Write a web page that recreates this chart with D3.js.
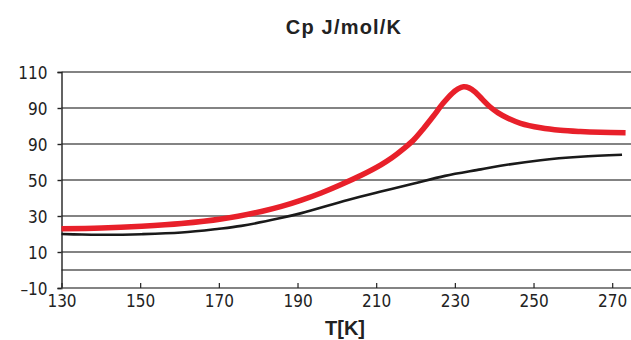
<!DOCTYPE html>
<html>
<head>
<meta charset="utf-8">
<script src="https://cdn.jsdelivr.net/npm/d3@7"></script>
<style>
  body { margin: 0; background: #fff; }
  svg text { fill: #222; }
  .tick text { font-family: "Liberation Sans Narrow", "DejaVu Sans Condensed", sans-serif; }
  .title { font-family: "Liberation Sans", Arial, sans-serif; }
</style>
</head>
<body>
<div id="chart"></div>
<script>
const width = 631;
const height = 340;

// temperatures and heat capacity
const redT  = [130, 140.2, 150.4, 160.5, 170.6, 180.8, 185.9, 191, 196, 201.1, 206.2, 211.2, 214, 217, 219.5, 222, 224.5, 227, 229.3, 230.8, 232.2, 233.6, 235.2, 237, 238.9, 241, 243.5, 246.7, 251.8, 256.8, 261.9, 267, 273.4];
const redCp = [22.9, 23.3, 24.3, 25.8, 28.3, 32.5, 35.3, 38.8, 42.8, 47.5, 52.6, 58.4, 62.3, 67.4, 72.2, 78.5, 85.4, 92.6, 98.1, 100.6, 101.8, 101.2, 98.8, 94.8, 90.7, 87.3, 84.3, 81.5, 79, 77.6, 76.9, 76.5, 76.3];
const blackT  = [130, 135.2, 140.2, 150.4, 160.5, 169.6, 175.7, 185.4, 191, 202.8, 211.2, 219.6, 227.5, 236.6, 241.6, 251.8, 261.9, 272.5];
const blackCp = [20, 19.7, 19.6, 19.9, 20.8, 22.8, 24.5, 28.7, 31.6, 38.9, 43.6, 48.1, 52.3, 55.9, 57.9, 61, 62.9, 64];

const xTicks = [130, 150, 170, 190, 210, 230, 250, 270];
const yTicks = [-10, 10, 30, 50, 70, 90, 110];
const yTickLabels = ["\u201310", "10", "30", "50", "90", "90", "110"];
const gridValues = [0, 10, 30, 50, 70, 90, 110];

const svg = d3.select("div#chart")
  .append("svg")
  .attr("width", width)
  .attr("height", height);

const x = d3.scaleLinear().domain([130, 270]).range([61.5, 612.2]);
const y = d3.scaleLinear().domain([-10, 110]).range([288, 72]);

// grid lines
svg.append("g")
  .selectAll("line")
  .data(gridValues)
  .enter()
  .append("line")
  .attr("x1", x(130))
  .attr("x2", width)
  .attr("y1", d => y(d))
  .attr("y2", d => y(d))
  .attr("stroke", "#5a5a5a")
  .attr("stroke-width", 1.4);

// y axis
const yAxis = d3.axisLeft(y)
  .tickValues(yTicks)
  .tickSize(4)
  .tickPadding(10)
  .tickFormat((d, i) => yTickLabels[i]);

svg.append("g")
  .attr("transform", "translate(" + x(130) + ",0)")
  .call(yAxis)
  .call(g => g.select(".domain").attr("stroke", "#222").attr("stroke-width", 1.4))
  .call(g => g.selectAll(".tick line").attr("stroke", "#222").attr("stroke-width", 1.4))
  .call(g => g.selectAll(".tick text").attr("font-size", 17).attr("fill", "#222").attr("dy", "0.36em"));

// x axis: ticks point up into the plot
const xAxis = d3.axisBottom(x)
  .tickValues(xTicks)
  .tickSizeInner(-5)
  .tickSizeOuter(0)
  .tickPadding(10)
  .tickFormat(d3.format("d"));

svg.append("g")
  .attr("transform", "translate(0," + y(-10) + ")")
  .call(xAxis)
  .call(g => g.select(".domain").attr("d", "M" + x(130) + ",0H" + width).attr("stroke", "#5a5a5a").attr("stroke-width", 1.4))
  .call(g => g.selectAll(".tick line").attr("stroke", "#222").attr("stroke-width", 1.2))
  .call(g => g.selectAll(".tick text").attr("font-size", 17).attr("fill", "#222").attr("dy", "0.55em"));

const line = d3.line()
  .x(d => x(d[0]))
  .y(d => y(d[1]))
  .curve(d3.curveCatmullRom.alpha(0.5));

svg.append("path")
  .datum(blackT.map((t, i) => [t, blackCp[i]]))
  .attr("d", line)
  .attr("fill", "none")
  .attr("stroke", "#1a1a1a")
  .attr("stroke-width", 2.6);

svg.append("path")
  .datum(redT.map((t, i) => [t, redCp[i]]))
  .attr("d", line)
  .attr("fill", "none")
  .attr("stroke", "#e8202a")
  .attr("stroke-width", 5.5);

// titles
svg.append("text")
  .attr("class", "title")
  .attr("x", 344)
  .attr("y", 34)
  .attr("text-anchor", "middle")
  .attr("font-size", 20)
  .attr("font-weight", "bold")
  .attr("letter-spacing", 1.2)
  .text("Cp J/mol/K");

svg.append("text")
  .attr("class", "title")
  .attr("x", 345)
  .attr("y", 335)
  .attr("text-anchor", "middle")
  .attr("font-size", 20)
  .attr("font-weight", "bold")
  .text("T[K]");
</script>
</body>
</html>
